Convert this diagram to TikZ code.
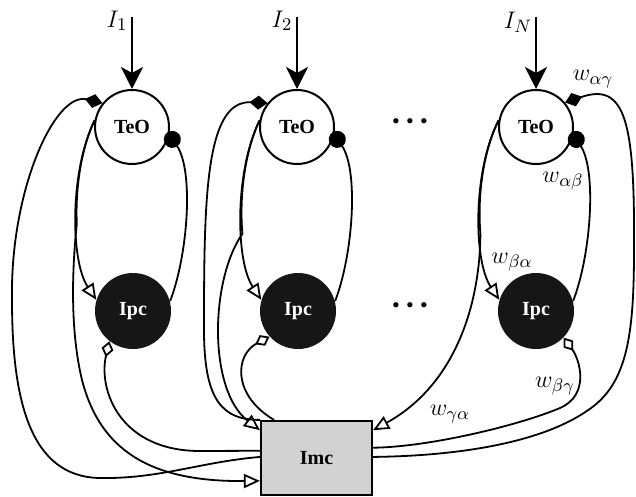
\documentclass[tikz,border=0pt]{standalone}
\usepackage[no-math]{fontspec}
\newfontfamily\tfont{Liberation Serif}
\usetikzlibrary{arrows.meta,calc}
\definecolor{ipcblack}{RGB}{22,22,22}
\definecolor{imcgray}{RGB}{209,210,212}
\tikzset{
 teo/.style={circle, draw, line width=1pt, minimum size=37pt, inner sep=0pt, font=\tfont\bfseries},
 ipc/.style={circle, fill=ipcblack, minimum size=38pt, inner sep=0pt, text=white, font=\tfont\bfseries},
 imc/.style={rectangle, draw, fill=imcgray, line width=1.1pt, minimum width=55.5pt, minimum height=37pt, inner sep=0pt, font=\tfont\bfseries},
 conn/.style={line width=0.9pt},
 inarrow/.style={line width=1.3pt, -{Stealth[length=11pt,width=11pt,inset=3pt]}},
 dotend/.style={-{Circle[length=8.5pt]}, shorten >=-1.5pt},
 diaend/.style={-{Diamond[length=9pt,width=7pt]}},
 triend/.style={-{Triangle[fill=white,length=8pt,width=7pt]}},
 odiastart/.style={{Diamond[fill=white,length=8pt,width=6pt]}-},
 wlab/.style={font=\fontsize{13}{15}\selectfont, inner sep=0pt},
 dotsnode/.style={font=\tfont\fontsize{11}{11}\selectfont, inner sep=0pt},
}
\newcommand{\threedots}{\textbullet\hspace{3.2pt}\textbullet\hspace{3.2pt}\textbullet}
\begin{document}
\begin{tikzpicture}[x=0.5pt,y=-0.5pt]
\useasboundingbox (0,0) rectangle (636,497);
% nodes
\node[teo] (T1) at (132,127) {TeO};
\node[ipc] (P1) at (133,311) {Ipc};
\node[teo] (T2) at (297,127) {TeO};
\node[ipc] (P2) at (298,311) {Ipc};
\node[teo] (T3) at (536,127) {TeO};
\node[ipc] (P3) at (536,311) {Ipc};
\node[imc] (M) at (316.5,458) {Imc};
% helper coordinates on Imc
\coordinate (Mw431) at ($(M.north west)!0.135!(M.south west)$);
\coordinate (Mw451) at ($(M.north west)!0.405!(M.south west)$);
\coordinate (Mw457) at ($(M.north west)!0.486!(M.south west)$);
\coordinate (Mw480) at ($(M.south west)!0.2!(M.north west)$);
\coordinate (Mn275) at ($(M.north west)!0.125!(M.north east)$);
\coordinate (Me431) at ($(M.north east)!0.135!(M.south east)$);
\coordinate (Me448) at ($(M.north east)!0.365!(M.south east)$);
\coordinate (Me457) at ($(M.north east)!0.486!(M.south east)$);
% inputs
\coordinate (i1) at (132,17);
\coordinate (i2) at (297,17);
\coordinate (i3) at (536,17);
\draw[inarrow] (i1) -- (T1);
\draw[inarrow] (i2) -- (T2);
\draw[inarrow] (i3) -- (T3);
\node[wlab] (l1) at (117,21) {$I_1$};
\node[wlab] (l2) at (282,21) {$I_2$};
\node[wlab] (l3) at (518,22) {$I_N$};
% dots
\node[dotsnode] (d1) at (410,124) {\threedots};
\node[dotsnode] (d2) at (410,308) {\threedots};
% column 1
\draw[conn,dotend] (P1.15) .. controls (188,255) and (194,170) .. (T1.-12);
\draw[conn,triend] (T1.170) .. controls (70,170) and (70,260) .. (P1.163);
\draw[conn,triend] (T1.170) .. controls (81.5,147.8) and (75.2,187.2) .. (76.8,223.8) .. controls (72,270) and (70,330) .. (82,380) .. controls (100,450) and (150,482) .. (Mw480);
\draw[conn,odiastart] (P1.232) .. controls (98,390) and (120,451) .. (200,451) -- (Mw451);
\draw[conn,diaend] (Mw457) .. controls (200,462) and (160,479) .. (100,478) .. controls (30,477) and (12,400) .. (12,300) .. controls (10,190) and (55,92) .. (T1.141);
% column 2
\draw[conn,dotend] (P2.15) .. controls (353,255) and (359,170) .. (T2.-12);
\draw[conn,triend] (T2.170) .. controls (235,170) and (235,260) .. (P2.163);
\draw[conn,triend] (T2.170) .. controls (245.2,150.6) and (239.1,194.7) .. (242.4,233.8) .. controls (210,280) and (208,390) .. (Mw431);
\draw[conn,odiastart] (P2.222) .. controls (235,355) and (232,395) .. (Mn275);
\draw[conn,diaend] (M.north west) .. controls (222,420) and (204,400) .. (204,330) .. controls (204,200) and (205,100) .. (T2.141);
% column 3
\draw[conn,dotend] (P3.15) .. controls (591,255) and (597,170) .. (T3.-12);
\draw[conn,triend] (T3.170) .. controls (473,170) and (473,260) .. (P3.163);
\draw[conn,triend] (T3.170) .. controls (483.6,150.2) and (477.2,194.5) .. (480.4,233.7) .. controls (480,305) and (455,385) .. (Me431);
\draw[conn,odiastart] (P3.-44) .. controls (580,360) and (590,395) .. (560,408) .. controls (520,425) and (430,447) .. (Me448);
\draw[conn,diaend] (Me457) .. controls (450,456) and (545,445) .. (595,405) .. controls (628,378) and (634,330) .. (634,250) .. controls (635,120) and (625,82) .. (T3.40);
% weight labels
\node[wlab] (wag) at (593,79) {$w_{\alpha\gamma}$};
\node[wlab] (wab) at (563,181) {$w_{\alpha\beta}$};
\node[wlab] (wba) at (512,262) {$w_{\beta\alpha}$};
\node[wlab] (wbg) at (555,386) {$w_{\beta\gamma}$};
\node[wlab] (wga) at (450,414) {$w_{\gamma\alpha}$};
\end{tikzpicture}
\end{document}
